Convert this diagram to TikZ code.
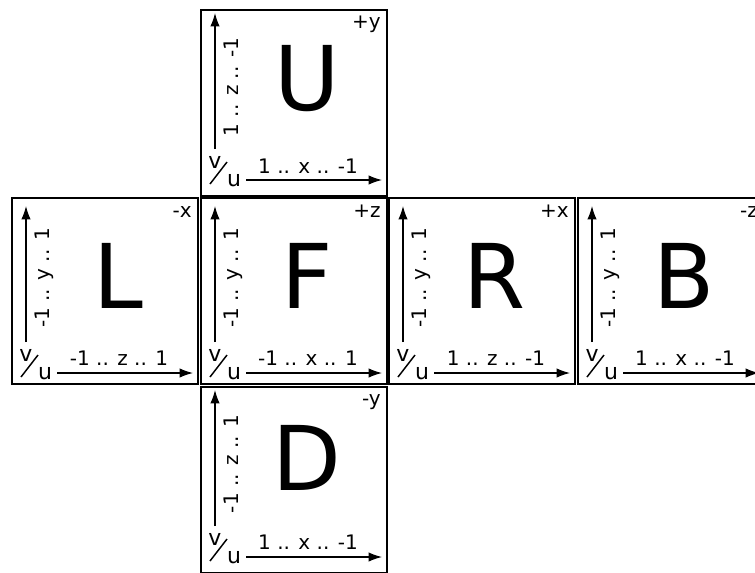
\documentclass[tikz,border=0pt]{standalone}
\usepackage{fontspec}
\setmainfont{DejaVu Sans}
\usetikzlibrary{arrows.meta}

\tikzset{
  face/.style={line width=1.6pt},
  bigletter/.style={inner sep=0pt,font=\fontsize{67}{67}\selectfont},
  axislbl/.style={inner sep=0pt,anchor=base east,font=\fontsize{15}{15}\selectfont},
  rangelbl/.style={inner sep=0pt,anchor=base,font=\fontsize{15}{15}\selectfont},
  uvlbl/.style={inner sep=0pt,font=\fontsize{16.5}{16.5}\selectfont},
  axarrow/.style={line width=0.9pt,-{Latex[length=10pt,width=7pt]}},
  slash/.style={line width=1.1pt}
}

\begin{document}
\begin{tikzpicture}[x=0.75pt,y=-0.75pt]
\useasboundingbox (0,0) rectangle (755,572);
\clip (0,0) rectangle (755,572);

% up
\draw[face] (201,10) rectangle (387,196);
\node[bigletter] (U) at (307,79) {U};
\node[axislbl] (Uax) at (381,28) {+y};
\coordinate (Uv0) at (215,149); \coordinate (Uv1) at (215,13);
\draw[axarrow] (Uv0) -- (Uv1);
\node[rangelbl,rotate=90] (Uvl) at (238,87) {1 .. z .. -1};
\coordinate (Uu0) at (246,180); \coordinate (Uu1) at (382,180);
\draw[axarrow] (Uu0) -- (Uu1);
\node[rangelbl] (Uul) at (308,173) {1 .. x .. -1};
\node[uvlbl] (Uv) at (215,162) {v};
\node[uvlbl] (Uu) at (234,180) {u};
\draw[slash] (210,184) -- (227,162);

% left
\draw[face] (12,198) rectangle (198,384);
\node[bigletter] (L) at (118,276) {L};
\node[axislbl] (Lax) at (192,217) {-x};
\coordinate (Lv0) at (26,342); \coordinate (Lv1) at (26,206);
\draw[axarrow] (Lv0) -- (Lv1);
\node[rangelbl,rotate=90] (Lvl) at (49,278) {-1 .. y .. 1};
\coordinate (Lu0) at (57,373); \coordinate (Lu1) at (193,373);
\draw[axarrow] (Lu0) -- (Lu1);
\node[rangelbl] (Lul) at (119,365) {-1 .. z .. 1};
\node[uvlbl] (Lv) at (26,355) {v};
\node[uvlbl] (Lu) at (45,373) {u};
\draw[slash] (21,377) -- (38,355);

% front
\draw[face] (201,198) rectangle (387,384);
\node[bigletter] (F) at (307,276) {F};
\node[axislbl] (Fax) at (381,217) {+z};
\coordinate (Fv0) at (215,342); \coordinate (Fv1) at (215,206);
\draw[axarrow] (Fv0) -- (Fv1);
\node[rangelbl,rotate=90] (Fvl) at (238,278) {-1 .. y .. 1};
\coordinate (Fu0) at (246,373); \coordinate (Fu1) at (382,373);
\draw[axarrow] (Fu0) -- (Fu1);
\node[rangelbl] (Ful) at (308,365) {-1 .. x .. 1};
\node[uvlbl] (Fv) at (215,355) {v};
\node[uvlbl] (Fu) at (234,373) {u};
\draw[slash] (210,377) -- (227,355);

% right
\draw[face] (389,198) rectangle (575,384);
\node[bigletter] (R) at (495,276) {R};
\node[axislbl] (Rax) at (569,217) {+x};
\coordinate (Rv0) at (403,342); \coordinate (Rv1) at (403,206);
\draw[axarrow] (Rv0) -- (Rv1);
\node[rangelbl,rotate=90] (Rvl) at (426,278) {-1 .. y .. 1};
\coordinate (Ru0) at (434,373); \coordinate (Ru1) at (570,373);
\draw[axarrow] (Ru0) -- (Ru1);
\node[rangelbl] (Rul) at (496,365) {1 .. z .. -1};
\node[uvlbl] (Rv) at (403,355) {v};
\node[uvlbl] (Ru) at (422,373) {u};
\draw[slash] (398,377) -- (415,355);

% back
\draw[face] (578,198) rectangle (764,384);
\node[bigletter] (B) at (684,276) {B};
\node[axislbl] (Bax) at (758,217) {-z};
\coordinate (Bv0) at (592,342); \coordinate (Bv1) at (592,206);
\draw[axarrow] (Bv0) -- (Bv1);
\node[rangelbl,rotate=90] (Bvl) at (615,278) {-1 .. y .. 1};
\coordinate (Bu0) at (623,373); \coordinate (Bu1) at (759,373);
\draw[axarrow] (Bu0) -- (Bu1);
\node[rangelbl] (Bul) at (685,365) {1 .. x .. -1};
\node[uvlbl] (Bv) at (592,355) {v};
\node[uvlbl] (Bu) at (611,373) {u};
\draw[slash] (587,377) -- (604,355);

% down
\draw[face] (201,387) rectangle (387,573);
\node[bigletter] (D) at (307,458) {D};
\node[axislbl] (Dax) at (381,405) {-y};
\coordinate (Dv0) at (215,526); \coordinate (Dv1) at (215,390);
\draw[axarrow] (Dv0) -- (Dv1);
\node[rangelbl,rotate=90] (Dvl) at (238,464) {-1 .. z .. 1};
\coordinate (Du0) at (246,557); \coordinate (Du1) at (382,557);
\draw[axarrow] (Du0) -- (Du1);
\node[rangelbl] (Dul) at (308,549) {1 .. x .. -1};
\node[uvlbl] (Dv) at (215,539) {v};
\node[uvlbl] (Du) at (234,557) {u};
\draw[slash] (210,561) -- (227,539);
\end{tikzpicture}
\end{document}
